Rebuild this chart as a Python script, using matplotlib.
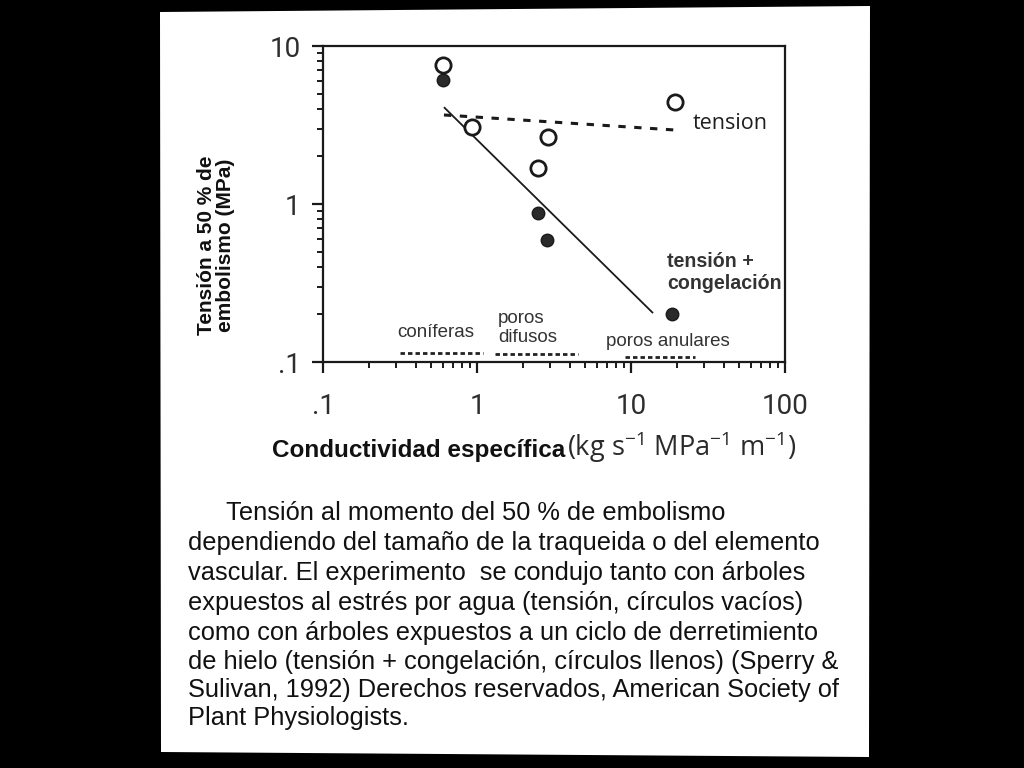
import matplotlib
matplotlib.use("Agg")
import matplotlib.pyplot as plt
from matplotlib.patches import Polygon
from matplotlib.ticker import FixedLocator, FixedFormatter, LogLocator, NullFormatter

# ---------------- data ----------------
tension_x = [0.60, 0.93, 2.89, 2.49, 19.3]
tension_y = [7.6, 3.07, 2.65, 1.69, 4.42]

frozen_x = [0.60, 2.49, 2.85, 18.5]
frozen_y = [6.1, 0.88, 0.59, 0.20]

fit_frozen_x = [0.61, 13.9]
fit_frozen_y = [4.1, 0.204]

fit_tension_x = [0.61, 19.3]
fit_tension_y = [3.66, 2.94]

group_names = ["coníferas", "poros\ndifusos", "poros anulares"]
group_x_start = [0.316, 1.31, 9.14]
group_x_end = [1.09, 4.53, 26.0]
group_y = [0.114, 0.113, 0.1077]

xtick_values = [0.1, 1, 10, 100]
xtick_labels = [".1", "1", "10", "100"]
ytick_values = [0.1, 1, 10]
ytick_labels = [".1", "1", "10"]

caption_lines = [
    "Tensión al momento del 50 % de embolismo",
    "dependiendo del tamaño de la traqueida o del elemento",
    "vascular. El experimento  se condujo tanto con árboles",
    "expuestos al estrés por agua (tensión, círculos vacíos)",
    "como con árboles expuestos a un ciclo de derretimiento",
    "de hielo (tensión + congelación, círculos llenos) (Sperry &",
    "Sulivan, 1992) Derechos reservados, American Society of",
    "Plant Physiologists.",
]

# ---------------- figure ----------------
W, H = 1024, 768
fig = plt.figure(figsize=(W / 100, H / 100), dpi=100, facecolor="black")

def fx(px):
    return px / W

def fy(py):
    return 1 - py / H

page = Polygon([(fx(160), fy(12)), (fx(870), fy(6)), (fx(869), fy(757)), (fx(161), fy(752))],
               closed=True, facecolor="white", edgecolor="none", transform=fig.transFigure,
               zorder=-10)
fig.patches.append(page)

ax_l, ax_r, ax_t, ax_b = 323, 785, 46, 362
ax = fig.add_axes([fx(ax_l), fy(ax_b), (ax_r - ax_l) / W, (ax_b - ax_t) / H])
ax.set_zorder(1)
ax.set_facecolor("none")
ax.set_xscale("log")
ax.set_yscale("log")
ax.set_xlim(0.1, 100)
ax.set_ylim(0.1, 10)

ink = "#1a1a1a"
for s in ax.spines.values():
    s.set_linewidth(1.6)
    s.set_color(ink)

tick_font = dict(family=["Roboto", "DejaVu Sans"], size=20, weight="normal")
ax.xaxis.set_major_locator(FixedLocator(xtick_values))
ax.xaxis.set_major_formatter(FixedFormatter(xtick_labels))
ax.yaxis.set_major_locator(FixedLocator(ytick_values))
ax.yaxis.set_major_formatter(FixedFormatter(ytick_labels))
ax.xaxis.set_minor_locator(LogLocator(base=10, subs=range(2, 10)))
ax.yaxis.set_minor_locator(LogLocator(base=10, subs=range(2, 10)))
ax.xaxis.set_minor_formatter(NullFormatter())
ax.yaxis.set_minor_formatter(NullFormatter())
ax.tick_params(axis="both", which="major", direction="out", length=8, width=1.6, color=ink,
               labelcolor="#2e2e2e")
ax.tick_params(axis="both", which="minor", direction="out", length=4, width=1.4, color=ink)
ax.tick_params(axis="x", which="major", pad=14)
ax.tick_params(axis="y", which="major", pad=8)
for lab in ax.get_xticklabels() + ax.get_yticklabels():
    lab.set_fontfamily(tick_font["family"])
    lab.set_fontsize(tick_font["size"])
    lab.set_fontweight(tick_font["weight"])

# fitted lines
ax.plot(fit_frozen_x, fit_frozen_y, color=ink, lw=1.3, solid_capstyle="butt")
ax.plot(fit_tension_x, fit_tension_y, color=ink, lw=2.2, linestyle=(0, (2.4, 2.8)))

# points
ax.plot(frozen_x, frozen_y, "o", ms=9, color="#2a2a2a", mec="#1a1a1a", mew=1, zorder=5)
ax.plot(tension_x, tension_y, "o", ms=11, mfc="white", mec=ink, mew=2, zorder=6)

# group ranges
for x0, x1, yy in zip(group_x_start, group_x_end, group_y):
    ax.plot([x0, x1], [yy, yy], color="#222222", lw=2, linestyle=(0, (1.6, 1.1)),
            solid_capstyle="butt")

lab_font = dict(family=["Liberation Sans", "DejaVu Sans"], size=13.5, color="#333333")
group_pos = [(0.161, 0.092), (0.379, 0.109), (0.6126, 0.066)]
for name, (gx, gy) in zip(group_names, group_pos):
    ax.text(gx, gy, name, transform=ax.transAxes, ha="left", va="center",
            linespacing=1.15, **lab_font)

ax.text(0.801, 0.756, "tension", transform=ax.transAxes, ha="left", va="center",
        family=["Open Sans", "DejaVu Sans"], size=15.5, weight="medium", color="#1e1e1e")
ax.text(0.745, 0.282, "tensión +\ncongelación", transform=ax.transAxes, ha="left",
        va="center", family=["Liberation Sans", "DejaVu Sans"], weight="bold", size=14.1,
        color="#333333", linespacing=1.2)

# axis labels
fig.text(fx(216), fy(245), "Tensión a 50 % de\nembolismo (MPa)", rotation=90,
         ha="center", va="center", family=["Liberation Sans", "DejaVu Sans"],
         weight="bold", size=15, color="#111111", linespacing=1.05)
fig.text(fx(272), fy(450), "Conductividad específica", ha="left", va="center",
         family=["Liberation Sans", "DejaVu Sans"], weight="bold", size=17.5, color="#111111")
plt.rcParams["mathtext.fontset"] = "custom"
plt.rcParams["mathtext.rm"] = "Open Sans"
plt.rcParams["mathtext.it"] = "Open Sans"
fig.text(fx(567), fy(447), r"(kg s$^{\mathrm{-1}}$ MPa$^{\mathrm{-1}}$ m$^{\mathrm{-1}}$)",
         ha="left", va="center", family=["Open Sans", "DejaVu Sans"], size=19.5,
         color="#2a2a2a")

# caption
cap_font = dict(family=["Liberation Sans Narrow", "Liberation Sans"], size=18.3, color="#111111")
cap_y = [513, 543, 573, 603, 633, 662, 690, 718]
for i, (line, py) in enumerate(zip(caption_lines, cap_y)):
    px = 226 if i == 0 else 188
    fig.text(fx(px), fy(py), line, ha="left", va="center", **cap_font)

fig.savefig("out.png", dpi=100, facecolor=fig.get_facecolor())
